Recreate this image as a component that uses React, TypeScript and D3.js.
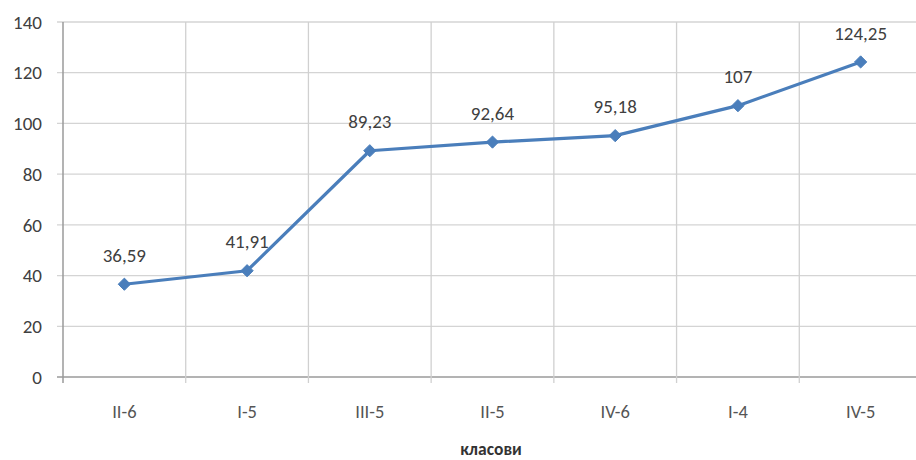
import React from "react";
import * as d3 from "d3";

const categories = ["II-6", "I-5", "III-5", "II-5", "IV-6", "I-4", "IV-5"];
const values = [36.59, 41.91, 89.23, 92.64, 95.18, 107, 124.25];
const valueLabels = ["36,59", "41,91", "89,23", "92,64", "95,18", "107", "124,25"];
const yTicks = [0, 20, 40, 60, 80, 100, 120, 140];
const xTitle = "класови";

const W = 916;
const H = 460;
const left = 63;
const right = 922;
const top = 22;
const bottom = 377;
const font = "Carlito, Calibri, 'Open Sans', sans-serif";

export default function App() {
  const x = d3.scaleBand<string>().domain(categories).range([left, right]).padding(0);
  const y = d3.scaleLinear().domain([0, 140]).range([bottom, top]);
  const line = d3
    .line<number>()
    .x((_, i) => (x(categories[i]) as number) + x.bandwidth() / 2)
    .y((d) => y(d));
  const diamond = d3.symbol().type(d3.symbolDiamond2).size(95)() as string;
  const boundaries = categories.map((c) => x(c) as number).concat([right]);

  return (
    <svg width={W} height={H} style={{ position: "absolute", left: 0, top: 0, background: "#fff" }}>
      {yTicks.map((t) => (
        <g key={t}>
          <line x1={left - 6} x2={right} y1={y(t)} y2={y(t)} stroke={t === 0 ? "#9a9a9a" : "#d4d4d4"} strokeWidth={t === 0 ? 1.5 : 1.3} />
          <text x={42} y={y(t)} dy="0.35em" textAnchor="end" fontSize={19} fill="#404040" fontFamily={font}>
            {t}
          </text>
        </g>
      ))}
      {boundaries.map((b, i) => (
        <line key={i} x1={b} x2={b} y1={top} y2={bottom + 6} stroke={i === 0 ? "#9a9a9a" : "#d0d0d0"} strokeWidth={i === 0 ? 1.5 : 1.3} />
      ))}
      {categories.map((c) => (
        <text key={c} x={(x(c) as number) + x.bandwidth() / 2} y={412} dy="0.35em" textAnchor="middle" fontSize={18.5} fill="#555" fontFamily={font}>
          {c}
        </text>
      ))}
      <path d={line(values) as string} fill="none" stroke="#4a7ebb" strokeWidth={3.2} strokeLinejoin="round" />
      {values.map((v, i) => {
        const cx = (x(categories[i]) as number) + x.bandwidth() / 2;
        return (
          <g key={i}>
            <path d={diamond} transform={`translate(${cx},${y(v)})`} fill="#4a7ebb" stroke="#4a7ebb" strokeWidth={1} />
            <text x={cx} y={y(v) - 29} dy="0.35em" textAnchor="middle" fontSize={19} fill="#404040" fontFamily={font}>
              {valueLabels[i]}
            </text>
          </g>
        );
      })}
      <text x={491} y={449} dy="0.35em" textAnchor="middle" fontSize={17.5} fontWeight="bold" fill="#333" fontFamily={font}>
        {xTitle}
      </text>
    </svg>
  );
}
